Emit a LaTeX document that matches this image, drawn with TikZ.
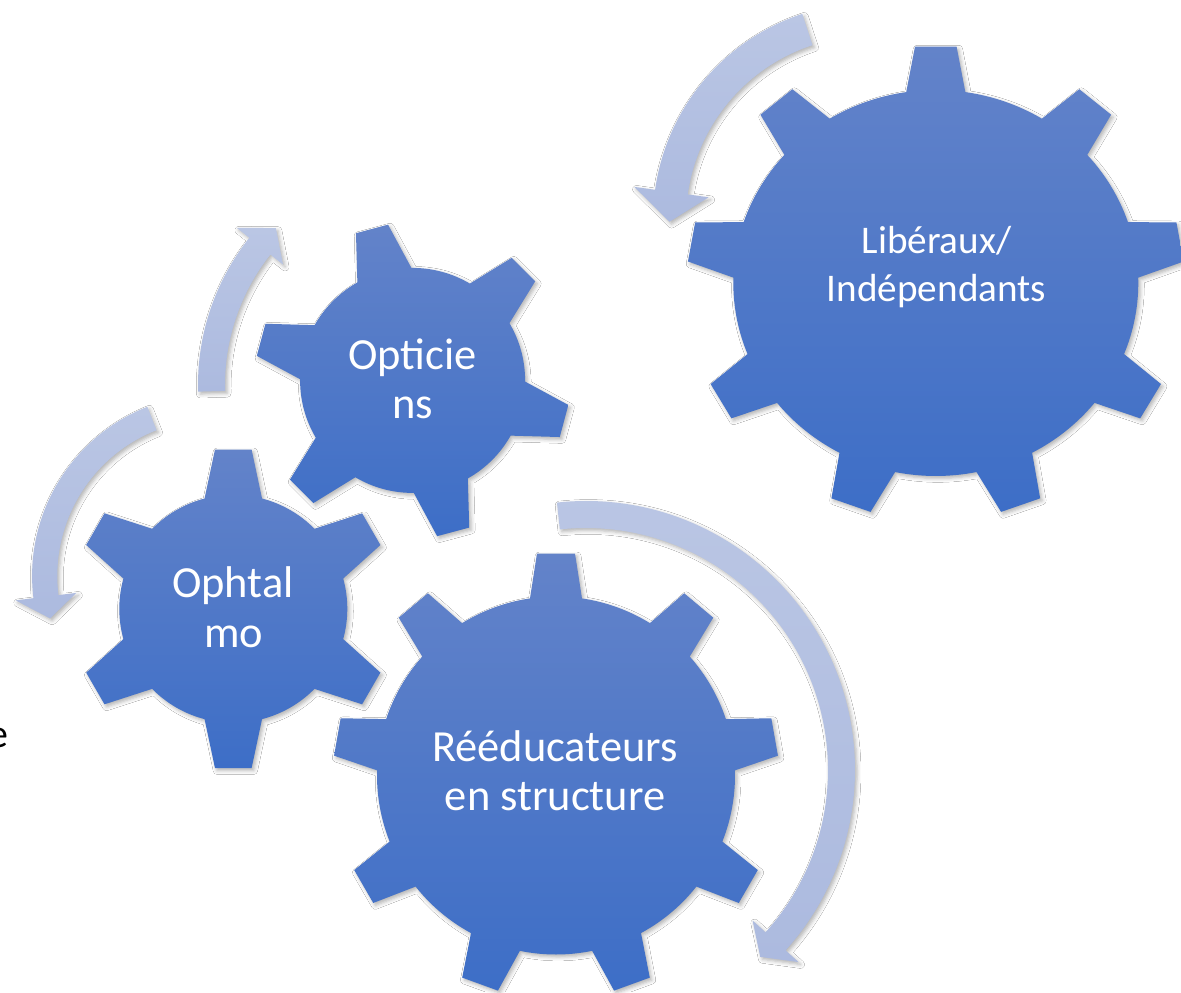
\documentclass[tikz,border=0pt]{standalone}
\usepackage{fontspec}
\setmainfont{Carlito}
\usetikzlibrary{calc,shadows.blur}
\definecolor{geartop}{RGB}{99,131,201}
\definecolor{gearbot}{RGB}{61,110,199}
\definecolor{arrtop}{RGB}{186,198,228}
\definecolor{arrbot}{RGB}{172,186,223}
\tikzset{
  myshadow/.style={blur shadow={shadow xshift=1.2pt, shadow yshift=-1.4pt, shadow blur radius=2.2pt, shadow opacity=30}},
  gearbody/.style={top color=geartop, bottom color=gearbot, draw=none, myshadow},
  arrowbody/.style={top color=arrtop, bottom color=arrbot, draw=none, myshadow},
  geartext/.style={text=white, inner sep=0pt, anchor=base, font=\fontsize{25.3}{28}\selectfont},
  geartextsmall/.style={text=white, inner sep=0pt, anchor=base, font=\fontsize{22.3}{27}\selectfont},
}
% #1 x, #2 y, #3 yscale, #4 teeth, #5 first angle, #6 body radius, #7 outer radius, #8 half base angle, #9 half tip width
\newcommand{\gearat}[9]{%
  \begin{scope}[shift={(#1,#2)}, yscale=#3]
    \pgfmathsetmacro{\gstep}{360/#4}
    \path[gearbody] ({#5-#8}:#6)
    \foreach \k in {1,...,#4}{
      -- ($({#5+(\k-1)*\gstep}:#7)+({#5+(\k-1)*\gstep-90}:#9)$)
      -- ($({#5+(\k-1)*\gstep}:#7)+({#5+(\k-1)*\gstep+90}:#9)$)
      -- ({#5+(\k-1)*\gstep+#8}:#6)
      arc[start angle={#5+(\k-1)*\gstep+#8}, end angle={#5+\k*\gstep-#8}, radius=#6]
    } -- cycle;
  \end{scope}}
% #1 centre coordinate, #2 mid radius, #3 half band, #4 tail angle, #5 head base angle, #6 tip angle, #7 half head width
\newcommand{\arrowat}[7]{%
  \begin{scope}[shift={(#1)}]
    \pgfmathsetmacro{\rout}{#2+#3}
    \pgfmathsetmacro{\rin}{#2-#3}
    \pgfmathsetmacro{\wout}{#2+#7}
    \pgfmathsetmacro{\win}{#2-#7}
    \path[arrowbody] ({#4}:\rout) arc[start angle=#4, end angle=#5, radius=\rout]
      -- ({#5}:\wout) -- ({#6}:#2) -- ({#5}:\win) -- ({#5}:\rin)
      arc[start angle=#5, end angle=#4, radius=\rin] -- cycle;
  \end{scope}}
\begin{document}
\begin{tikzpicture}[x=0.02cm, y=-0.02cm]
  \clip (0,0) rectangle (1181,992);
  \fill[white] (0,0) rectangle (1181,992);
  % arrow centres
  \coordinate (ca) at (870,220);
  \coordinate (cb) at (435,385);
  \coordinate (cc) at (214,576);
  \coordinate (cd) at (586,770);
  % circular arrows
  \arrowat{ca}{200.5}{16.5}{-108.2}{-172}{-180.5}{37.5}
  \arrowat{cb}{223.5}{13.5}{-181.6}{-141.6}{-135.4}{29.6}
  \arrowat{cc}{169.3}{12.6}{-111.5}{-187}{-194.5}{30.6}
  \arrowat{cd}{255.5}{13.5}{-96.2}{42.1}{47}{31}
  % gears
  \gearat{935.8}{283}{0.953}{9}{-90}{202.5}{248}{8.4}{20.8}
  \gearat{412.6}{380.4}{1}{6}{-105}{112.5}{156.8}{14.4}{16.6}
  \gearat{233.3}{608.8}{1}{6}{-90}{114}{159.3}{14.6}{18.3}
  \gearat{556}{775.5}{1}{9}{-90}{179}{222}{8.35}{19}
  % texts
  \node[geartextsmall] (t1a) at (936.5,253.3) {Libéraux/};
  \node[geartextsmall] (t1b) at (936.5,301.7) {Indépendants};
  \node[geartext] (t2a) at (412.4,369) {Opticie};
  \node[geartext] (t2b) at (413,418.3) {ns};
  \node[geartext] (t3a) at (232.8,597.7) {Ophtal};
  \node[geartext] (t3b) at (233.8,647.3) {mo};
  \node[geartext] (t4a) at (555,761.7) {Rééducateurs};
  \node[geartext] (t4b) at (555,810.7) {en structure};
  \node[anchor=base west, inner sep=0pt, font=\fontsize{22.7}{27}\selectfont] (stray) at (-12.3,747.5) {e};
\end{tikzpicture}
\end{document}
